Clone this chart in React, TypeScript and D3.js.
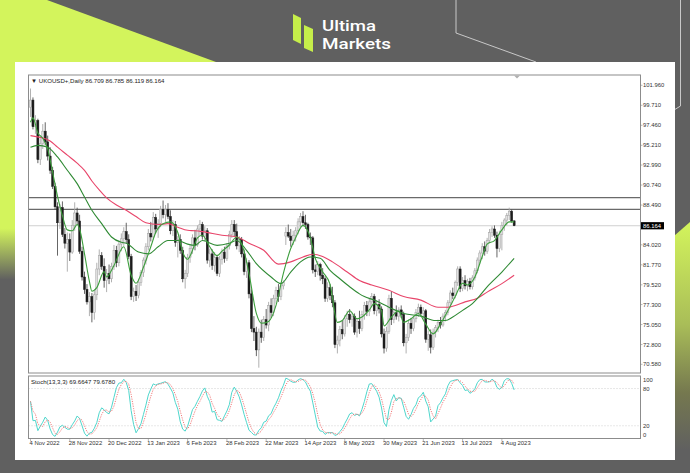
import React from 'react';
import * as d3 from 'd3';

// ---- candle data (UKOUSD+, Daily) ----
const opens = [
  99.5,100.3,97.3,98.0,93.6,95.4,96.8,95.6,94.0,92.4,
  90.6,88.3,86.5,88.2,85.2,84.2,84.6,83.2,86.2,87.6,
  86.7,83.3,80.4,79.0,77.6,78.2,76.4,78.4,81.3,82.8,
  81.6,80.0,80.8,80.2,81.6,83.4,82.0,84.1,84.7,85.5,
  84.6,82.7,78.2,78.8,78.3,79.8,80.9,82.3,83.8,85.3,
  84.9,87.1,85.8,86.4,88.0,87.4,88.0,87.2,85.6,86.3,
  84.3,84.6,83.4,80.2,80.8,82.6,83.6,84.8,84.0,85.8,
  86.3,85.0,85.6,82.3,83.0,81.7,82.6,80.8,82.4,83.2,
  82.5,83.9,85.2,86.3,85.5,83.9,84.6,83.0,81.0,82.0,
  78.5,74.6,74.2,72.2,74.2,73.6,75.6,75.0,77.2,76.4,
  78.0,78.9,78.2,79.4,85.0,85.4,85.0,84.5,85.1,85.6,
  86.6,87.2,86.5,86.3,84.9,84.8,81.2,81.0,81.8,80.6,
  80.2,78.0,79.2,78.3,77.5,72.8,73.3,74.5,74.0,75.7,
  76.2,75.6,76.0,74.2,75.4,74.6,76.2,77.2,76.5,77.6,
  78.2,76.6,77.3,76.8,74.0,72.4,74.3,78.0,75.6,76.4,
  76.0,76.7,76.2,73.0,73.6,75.2,74.6,75.7,76.4,77.0,
  76.3,76.6,73.4,73.9,72.5,74.2,74.7,75.3,75.0,76.0,
  76.4,77.5,78.6,78.3,79.8,81.3,79.1,80.0,79.4,79.9,
  79.3,80.3,81.1,82.3,83.1,83.8,83.3,84.5,85.4,85.8,
  85.1,83.6,85.2,86.2,86.8,87.3,87.8,86.709,
];
const highs = [
  101.6,100.6,98.6,98.2,96.0,97.6,97.8,96.3,95.0,92.8,
  91.0,88.8,88.6,88.9,85.9,85.4,85.3,86.8,88.8,88.2,
  87.4,83.8,81.0,79.6,78.7,78.6,78.9,82.0,83.5,83.2,
  82.5,81.3,81.8,82.0,84.0,83.9,84.5,85.3,86.0,86.5,
  85.2,83.0,79.2,79.5,80.2,81.2,82.6,84.2,85.8,86.6,
  87.7,87.5,86.9,88.4,89.0,88.5,88.7,87.9,86.8,86.7,
  85.0,85.2,83.8,81.2,83.0,84.0,85.2,85.7,86.2,86.8,
  86.6,86.1,85.9,83.6,83.5,83.2,82.9,82.8,83.6,83.8,
  84.2,85.6,86.8,86.8,86.4,85.0,84.9,83.5,82.5,82.3,
  79.0,76.0,74.8,74.6,75.6,76.0,76.8,77.6,78.0,78.4,
  79.3,79.6,79.8,80.0,86.0,86.3,85.8,85.6,86.0,87.0,
  87.6,87.8,87.4,86.5,85.4,85.0,81.8,82.2,82.0,81.4,
  80.5,79.8,79.6,79.3,77.8,73.8,74.9,75.5,76.1,76.6,
  76.8,76.4,76.3,75.8,76.6,76.6,77.6,77.7,78.0,78.6,
  78.5,77.8,77.9,77.1,74.6,74.8,78.4,78.8,76.8,77.2,
  77.0,77.2,76.5,74.0,75.6,75.8,76.0,76.8,77.4,77.3,
  77.0,76.8,74.4,74.5,74.6,75.0,75.6,75.9,76.3,76.7,
  77.8,78.9,79.2,80.0,81.6,81.6,80.4,80.6,80.2,80.3,
  80.6,81.4,82.6,83.4,84.2,84.4,84.8,85.8,86.1,86.2,
  85.5,85.6,86.6,87.0,87.6,88.2,88.0,86.785,
];
const lows = [
  98.4,97.0,96.5,93.2,93.0,94.8,95.2,93.5,92.0,90.3,
  88.0,82.8,85.8,84.9,83.6,81.0,82.2,83.0,85.6,86.3,
  83.0,80.0,78.5,77.3,76.0,75.3,75.6,77.8,80.6,81.2,
  79.2,78.7,79.6,79.8,81.2,81.5,81.6,83.3,83.9,84.2,
  82.4,77.8,77.6,77.7,78.0,79.4,80.4,81.8,83.4,84.4,
  84.6,85.3,84.8,86.0,87.0,86.6,86.9,85.2,85.0,83.8,
  82.6,83.0,79.8,79.1,80.4,82.0,83.0,83.4,83.8,85.0,
  84.6,84.4,81.9,81.5,81.2,81.0,80.5,80.4,81.8,82.0,
  82.2,83.5,84.8,85.0,83.5,83.2,82.6,80.6,80.3,78.0,
  74.2,73.2,71.5,70.2,73.0,73.2,74.6,74.3,75.8,76.0,
  77.4,77.6,77.8,79.0,84.0,84.8,83.8,84.0,84.4,85.2,
  86.0,86.1,85.8,84.6,84.0,80.8,80.4,80.6,80.0,79.6,
  77.6,77.6,77.8,77.0,72.4,71.8,72.6,73.4,73.7,74.8,
  75.2,74.8,73.9,73.6,74.0,74.3,75.6,76.0,76.0,77.0,
  76.2,76.0,76.3,73.6,71.8,72.0,74.0,75.0,75.2,75.6,
  75.4,75.8,72.6,71.8,73.2,74.0,74.3,75.3,75.9,76.0,
  75.6,73.0,72.1,71.8,72.2,73.6,74.2,74.6,74.8,75.4,
  76.1,77.0,77.9,78.0,79.4,78.7,78.8,79.0,78.8,79.0,
  79.0,80.0,80.8,81.9,82.4,82.8,83.0,84.2,84.9,84.8,
  82.6,83.2,83.4,85.6,86.2,86.8,86.5,86.119,
];
const closes = [
  100.3,97.3,98.0,93.6,95.4,96.8,95.6,94.0,92.4,90.6,
  88.3,86.5,88.2,85.2,84.2,84.6,83.2,86.2,87.6,86.7,
  83.3,80.4,79.0,77.6,78.2,76.4,78.4,81.3,82.8,81.6,
  80.0,80.8,80.2,81.6,83.4,82.0,84.1,84.7,85.5,84.6,
  82.7,78.2,78.8,78.3,79.8,80.9,82.3,83.8,85.3,84.9,
  87.1,85.8,86.4,88.0,87.4,88.0,87.2,85.6,86.3,84.3,
  84.6,83.4,80.2,80.8,82.6,83.6,84.8,84.0,85.8,86.3,
  85.0,85.6,82.3,83.0,81.7,82.6,80.8,82.4,83.2,82.5,
  83.9,85.2,86.3,85.5,83.9,84.6,83.0,81.0,82.0,78.5,
  74.6,74.2,72.2,74.2,73.6,75.6,75.0,77.2,76.4,78.0,
  78.9,78.2,79.4,79.8,85.4,85.0,84.5,85.1,85.6,86.6,
  87.2,86.5,86.3,84.9,84.8,81.2,81.0,81.8,80.6,80.2,
  78.0,79.2,78.3,77.5,72.8,73.3,74.5,74.0,75.7,76.2,
  75.6,76.0,74.2,75.4,74.6,76.2,77.2,76.5,77.6,78.2,
  76.6,77.3,76.8,74.0,72.4,74.3,78.0,75.6,76.4,76.0,
  76.7,76.2,73.0,73.6,75.2,74.6,75.7,76.4,77.0,76.3,
  76.6,73.4,73.9,72.5,74.2,74.7,75.3,75.0,76.0,76.4,
  77.5,78.6,78.3,79.8,81.3,79.1,80.0,79.4,79.9,79.3,
  80.3,81.1,82.3,83.1,83.8,83.3,84.5,85.4,85.8,85.1,
  83.6,85.2,86.2,86.8,87.3,87.8,86.7,86.164,
];

// moving averages: [bar index, value]
const maFast = [
  [0,97.8],[1,98.3],[3,96.6],[5,96.0],[7,94.8],[9,92.2],[11,89.5],[13,87.3],[15,85.7],[17,85.6],
  [19,86.3],[20,85.8],[22,83.0],[24,79.9],[25,78.8],[27,79.2],[30,81.0],[31,80.4],[34,81.7],[38,83.8],
  [41,80.6],[43,79.7],[46,81.5],[49,83.8],[51,85.4],[54,86.4],[57,86.6],[60,85.4],[62,83.2],[64,82.4],
  [66,83.4],[68,84.8],[70,85.1],[73,83.8],[76,82.8],[78,83.3],[81,84.0],[84,84.9],[87,83.3],[89,80.8],
  [92,76.3],[94,75.2],[97,75.4],[100,77.2],[103,80.8],[106,83.6],[108,84.8],[111,86.2],[114,84.8],[116,82.5],
  [119,81.0],[122,79.6],[125,75.3],[127,75.5],[130,76.6],[133,75.7],[135,75.9],[138,76.7],[140,77.4],[143,76.6],
  [144,74.9],[147,75.9],[150,76.6],[152,75.3],[155,75.7],[158,76.3],[161,75.1],[164,74.0],[167,75.1],[170,76.6],
  [173,78.2],[176,79.7],[178,79.5],[181,80.4],[184,82.7],[186,84.1],[189,84.5],[192,85.7],[195,86.6],[197,86.6],
];
const maSlow = [
  [0,95.0],[3,95.2],[7,95.0],[11,93.9],[15,92.4],[19,90.9],[22,89.4],[25,87.9],[29,86.4],[33,84.9],
  [37,84.3],[39,84.2],[44,83.2],[48,83.0],[52,83.8],[56,84.5],[60,84.5],[64,84.1],[67,83.96],[70,84.5],
  [76,83.96],[81,84.2],[84,84.5],[88,83.4],[92,81.9],[98,80.4],[102,79.65],[106,80.96],[110,82.1],[114,82.65],
  [118,82.5],[122,81.15],[126,80.2],[130,79.3],[134,78.5],[136,78.2],[140,77.8],[146,77.0],[152,76.3],[159,76.0],
  [165,75.5],[169,75.5],[172,75.9],[176,76.65],[180,77.4],[182,77.97],[186,79.3],[192,80.96],[197,82.5],
];
const maLong = [
  [0,96.3],[4,96.1],[8,95.7],[11,95.0],[15,94.1],[19,93.2],[22,92.4],[25,91.2],[28,90.2],[31,89.3],
  [35,88.5],[39,87.9],[43,87.2],[47,86.5],[52,86.3],[56,86.4],[60,86.0],[64,85.65],[67,85.6],[70,85.5],
  [78,85.1],[84,84.9],[89,84.2],[95,83.4],[101,81.85],[106,82.1],[111,82.65],[115,82.95],[119,82.7],[123,82.1],
  [129,80.96],[134,80.0],[139,79.5],[146,78.9],[152,78.2],[159,77.8],[166,77.0],[170,77.0],[173,77.2],[177,77.6],
  [182,78.0],[186,78.7],[192,79.65],[197,80.6],
];

const dateLabels = ['4 Nov 2022','28 Nov 2022','20 Dec 2022','13 Jan 2023','6 Feb 2023','28 Feb 2023','22 Mar 2023','14 Apr 2023','8 May 2023','30 May 2023','21 Jun 2023','13 Jul 2023','4 Aug 2023'];
const dateLabelBars = [0,16,32,48,64,80,96,112,128,144,160,176,192];
const priceTicks = [101.96,99.71,97.46,95.21,92.99,90.74,88.49,84.02,81.77,79.52,77.3,75.05,72.8,70.58];
const priceTickLabels = ['101.960','99.710','97.460','95.210','92.990','90.740','88.490','84.020','81.770','79.520','77.300','75.050','72.800','70.580'];
const hLevels = [89.33, 88.0];
const lastPrice = 86.164;
const stochLevels = [80, 20];
const stochAxis = [100, 80, 20, 0];
const headerText = '\u25BC UKOUSD+,Daily  86.709 86.785 86.119 86.164';
const stochText = 'Stoch(13,3,3) 69.6647 79.6780';
const brandLines = ['Ultima', 'Markets'];

const FONT = '"Liberation Sans", Arial, sans-serif';

function computeStoch(kP: number, slow: number, dP: number) {
  const n = closes.length;
  const num: number[] = [];
  const den: number[] = [];
  for (let i = 0; i < n; i++) {
    const s = Math.max(0, i - kP + 1);
    const lo = d3.min(lows.slice(s, i + 1)) as number;
    const hi = d3.max(highs.slice(s, i + 1)) as number;
    num.push(closes[i] - lo);
    den.push(hi - lo);
  }
  const main: number[] = [];
  for (let i = 0; i < n; i++) {
    const s = Math.max(0, i - slow + 1);
    const a = d3.sum(num.slice(s, i + 1));
    const b = d3.sum(den.slice(s, i + 1));
    main.push(b === 0 ? 50 : (a / b) * 100);
  }
  const sig: number[] = [];
  for (let i = 0; i < n; i++) {
    const s = Math.max(0, i - dP + 1);
    sig.push(d3.mean(main.slice(s, i + 1)) as number);
  }
  return { main, sig };
}

export default function App() {
  const W = 690, H = 473;
  const n = closes.length;
  const PL = 28.5, PR = 640.5, PT = 75, PB = 373, ST = 376, SB = 438.5;
  const x = d3.scaleLinear().domain([0, n - 1]).range([30.5, 30.5 + 2.455 * (n - 1)]);
  const y = d3.scaleLinear().domain([70.58, 101.96]).range([364.3, 85.3]);
  const ys = d3.scaleLinear().domain([0, 100]).range([438.2, 376.1]);

  const maLine = d3.line<number[]>().x(d => x(d[0])).y(d => y(d[1])).curve(d3.curveMonotoneX);
  const { main, sig } = computeStoch(13, 3, 3);
  const stLine = d3.line<number>().x((_, i) => x(i)).y(d => ys(d));

  const lime = '#d3f45c';

  return (
    <svg width={W} height={H} style={{ position: 'absolute', left: 0, top: 0 }} xmlns="http://www.w3.org/2000/svg">
      <defs>
        <linearGradient id="leftG" x1="0" y1="0" x2="0" y2="1" gradientUnits="objectBoundingBox">
          <stop offset="0" stopColor={lime} />
          <stop offset="0.52" stopColor={lime} />
          <stop offset="0.68" stopColor="#606060" />
          <stop offset="1" stopColor="#606060" />
        </linearGradient>
        <linearGradient id="rightG" x1="0" y1="222" x2="0" y2="450" gradientUnits="userSpaceOnUse">
          <stop offset="0" stopColor={lime} />
          <stop offset="0.45" stopColor="#a9bd58" />
          <stop offset="0.75" stopColor="#75784f" />
          <stop offset="1" stopColor="#606060" />
        </linearGradient>
        <clipPath id="mainClip"><rect x={PL} y={PT} width={PR - PL} height={PB - PT} /></clipPath>
        <clipPath id="stClip"><rect x={PL} y={ST} width={PR - PL} height={SB - ST} /></clipPath>
      </defs>

      {/* background */}
      <rect x={0} y={0} width={W} height={H} fill="#606060" />
      <polygon points="0,0 47,0 216,62 0,62" fill={lime} />
      <rect x={0} y={62} width={15} height={320} fill="url(#leftG)" />
      <polygon points="674,236 690,222 690,473 674,473" fill="url(#rightG)" />
      <polyline points="456,0 456,33 536,62" fill="none" stroke="#c8c8c8" strokeWidth={1} />
      <polyline points="680.5,0 680.5,106 674,110" fill="none" stroke="#c8c8c8" strokeWidth={1} />

      {/* logo */}
      <polygon points="293,14 301,18 301,44 293,40" fill="#c6ee4a" />
      <polygon points="304,25 313,29 313,52 304,48" fill="#c6ee4a" />
      <text x={322} y={30.8} fill="#ffffff" fontFamily="Roboto, sans-serif" fontSize={15.4} fontWeight={500}
        textLength={54} lengthAdjust="spacingAndGlyphs">{brandLines[0]}</text>
      <text x={322} y={49.2} fill="#ffffff" fontFamily="Roboto, sans-serif" fontSize={15.4} fontWeight={500}
        textLength={69} lengthAdjust="spacingAndGlyphs">{brandLines[1]}</text>

      {/* white chart card */}
      <rect x={15} y={62} width={660} height={398} fill="#ffffff" />

      {/* main panel */}
      <g clipPath="url(#mainClip)">
        <line x1={PL} x2={PR} y1={y(lastPrice)} y2={y(lastPrice)} stroke="#d0d0d0" strokeWidth={1} />
        {hLevels.map((v, i) => (
          <line key={i} x1={PL} x2={PR} y1={y(v)} y2={y(v)} stroke="#6a6a6a" strokeWidth={1.2} />
        ))}
        {closes.map((c, i) => {
          const o = opens[i];
          const bull = c >= o;
          const cx = x(i);
          const top = y(Math.max(o, c));
          const bot = y(Math.min(o, c));
          return (
            <g key={i}>
              <line x1={cx} x2={cx} y1={y(highs[i])} y2={y(lows[i])} stroke={bull ? '#a8a8a8' : '#555'} strokeWidth={0.9} />
              <rect x={cx - 1} y={top} width={2} height={Math.max(0.8, bot - top)}
                fill={bull ? '#e2e2e2' : '#1c1c1c'} stroke={bull ? '#a0a0a0' : '#1c1c1c'} strokeWidth={0.5} />
            </g>
          );
        })}
        <path d={maLine(maLong as any) || ''} fill="none" stroke="#e8456a" strokeWidth={1.1} />
        <path d={maLine(maSlow as any) || ''} fill="none" stroke="#2f8a34" strokeWidth={1.1} />
        <path d={maLine(maFast as any) || ''} fill="none" stroke="#3c9e3c" strokeWidth={1.1} />
      </g>
      <rect x={PL} y={PT} width={PR - PL} height={PB - PT} fill="none" stroke="#8c8c8c" strokeWidth={1} />
      <polygon points="514,75.5 520,75.5 517,78.5" fill="#b0b0b0" />
      <text x={31} y={83} fontFamily={FONT} fontSize={6.1} fill="#222">{headerText}</text>

      {/* price axis */}
      {priceTicks.map((v, i) => (
        <g key={i}>
          <line x1={PR} x2={PR + 2} y1={y(v)} y2={y(v)} stroke="#8c8c8c" strokeWidth={0.6} />
          <text x={643} y={y(v)} dy="0.35em" fontFamily={FONT} fontSize={5.9} fill="#333">{priceTickLabels[i]}</text>
        </g>
      ))}
      <rect x={641} y={y(lastPrice) - 3.6} width={23} height={7.2} fill="#000" />
      <text x={643} y={y(lastPrice)} dy="0.35em" fontFamily={FONT} fontSize={5.9} fill="#fff">{lastPrice.toFixed(3)}</text>

      {/* stochastic panel */}
      <g clipPath="url(#stClip)">
        {stochLevels.map((v, i) => (
          <line key={i} x1={PL} x2={PR} y1={ys(v)} y2={ys(v)} stroke="#c4c4c4" strokeWidth={0.8} strokeDasharray="1,2" />
        ))}
        <path d={stLine(main) || ''} fill="none" stroke="#4fd6cc" strokeWidth={1} />
        <path d={stLine(sig) || ''} fill="none" stroke="#f07a7a" strokeWidth={1} strokeDasharray="1.2,1.2" />
      </g>
      <rect x={PL} y={ST} width={PR - PL} height={SB - ST} fill="none" stroke="#8c8c8c" strokeWidth={1} />
      <text x={31} y={384} fontFamily={FONT} fontSize={6.1} fill="#222">{stochText}</text>
      {stochAxis.map((v, i) => (
        <text key={i} x={643} y={Math.min(436.5, Math.max(382, ys(v) + 2))} fontFamily={FONT} fontSize={5.9} fill="#333">{v}</text>
      ))}

      {/* date axis */}
      {dateLabelBars.map((b, i) => (
        <g key={i}>
          <line x1={x(b)} x2={x(b)} y1={SB} y2={SB + 3} stroke="#8c8c8c" strokeWidth={0.6} />
          <text x={x(b) - 1} y={445} fontFamily={FONT} fontSize={5.9} fill="#333">{dateLabels[i]}</text>
        </g>
      ))}
    </svg>
  );
}
